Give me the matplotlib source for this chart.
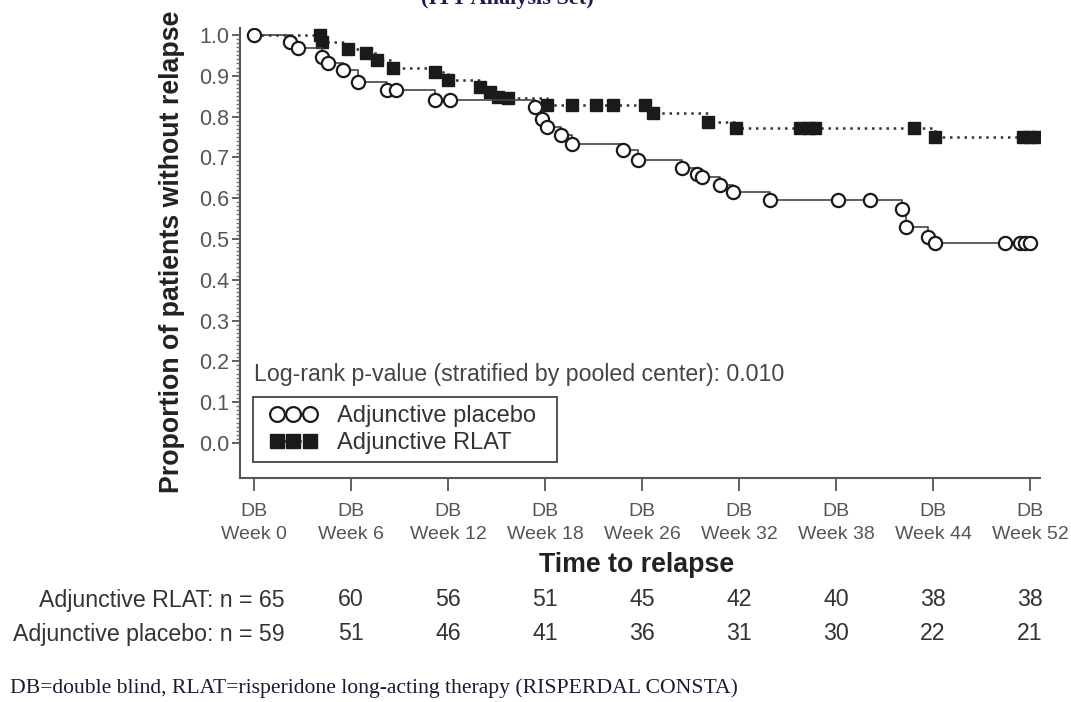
import matplotlib.pyplot as plt
import numpy as np
from matplotlib import transforms
from matplotlib.lines import Line2D
from matplotlib.patches import Rectangle
from matplotlib.legend_handler import HandlerLine2D
from matplotlib.ticker import FixedLocator

plt.rcParams['font.family'] = ['Liberation Sans', 'DejaVu Sans']

# visit weeks shown on the x axis (evenly spaced on the plot)
tick_weeks = [0, 6, 12, 18, 26, 32, 38, 44, 52]
tick_labels = ['DB\nWeek %d' % w for w in tick_weeks]

# Kaplan-Meier estimates, adjunctive placebo
placebo_weeks = [0, 2.2, 2.7, 4.2, 4.6, 5.5, 6.4, 8.2, 8.8, 11.2, 12.1,
                 17.4, 17.8, 18.2, 19.3, 20.2, 24.4, 25.7, 28.5, 29.4, 29.7,
                 30.8, 31.6, 33.9, 38.1, 40.1, 42.1, 42.3, 43.7, 44.2,
                 49.9, 51.2, 51.6, 52.0]
placebo_surv = [1.0, 0.983, 0.968, 0.946, 0.931, 0.914, 0.884, 0.865, 0.865,
                0.841, 0.841, 0.824, 0.794, 0.775, 0.755, 0.733, 0.718, 0.694,
                0.674, 0.660, 0.652, 0.632, 0.615, 0.596, 0.596, 0.596, 0.574,
                0.529, 0.505, 0.490, 0.490, 0.490, 0.490, 0.490]

# Kaplan-Meier estimates, adjunctive RLAT
rlat_weeks = [0, 4.1, 4.2, 5.8, 6.9, 7.6, 8.6, 11.2, 12.0, 14.0, 14.6, 15.1,
              15.7, 18.2, 20.2, 22.2, 23.6, 26.2, 26.7, 30.1, 31.8, 35.8,
              36.3, 36.7, 42.8, 44.2, 51.4, 52.0, 52.6]
rlat_surv = [1.0, 1.0, 0.983, 0.966, 0.956, 0.939, 0.919, 0.909, 0.890, 0.873,
             0.860, 0.848, 0.846, 0.828, 0.828, 0.828, 0.828, 0.828, 0.809,
             0.787, 0.772, 0.772, 0.772, 0.772, 0.772, 0.750, 0.750, 0.750,
             0.750]

# numbers at risk at each visit
rlat_at_risk = [65, 60, 56, 51, 45, 42, 40, 38, 38]
placebo_at_risk = [59, 51, 46, 41, 36, 31, 30, 22, 21]

# piecewise mapping so the visits sit at equal spacing
knot_w = [-6] + tick_weeks + [60]
knot_p = list(range(-1, len(tick_weeks) + 1))


def fwd(w):
    return np.interp(w, knot_w, knot_p)


def inv(p):
    return np.interp(p, knot_p, knot_w)


W, H = 1071, 702
fig = plt.figure(figsize=(W / 100, H / 100), dpi=100)
ax = fig.add_axes([240 / W, 1 - 478 / H, 800 / W, 450 / H])
ax.set_xscale('function', functions=(fwd, inv))

dots = (0, (1, 1.9))
ax.plot(rlat_weeks, rlat_surv, drawstyle='steps-post', color='#333333',
        lw=1.8, linestyle=dots, marker='s', ms=9, mfc='#1a1a1a',
        mec='#1a1a1a', markevery=range(1, len(rlat_weeks)), zorder=3)
ax.plot(placebo_weeks, placebo_surv, drawstyle='steps-post', color='#444444',
        lw=1.2, marker='o', ms=9.5, mfc='white', mec='#1a1a1a', mew=1.6,
        zorder=4)

ax.set_xlim(-0.87, 52.82)
ax.set_ylim(-0.086, 1.017)

for side in ['top', 'right']:
    ax.spines[side].set_visible(False)
for side in ['left', 'bottom']:
    ax.spines[side].set_color('#555555')
    ax.spines[side].set_linewidth(1.5)

ax.set_xticks(tick_weeks)
ax.set_xticklabels(tick_labels, linespacing=1.45)
ax.set_yticks(np.round(np.arange(0, 1.01, 0.1), 1))
ax.set_yticklabels(['%.1f' % v for v in np.arange(0, 1.01, 0.1)])
ax.yaxis.set_minor_locator(FixedLocator(np.arange(0, 1.0001, 0.01)))
ax.xaxis.set_minor_locator(FixedLocator([]))
ax.tick_params(axis='x', which='major', length=9, width=1.3, color='#555555',
               pad=9, labelsize=14, labelcolor='#555555')
ax.tick_params(axis='y', which='major', length=6, width=1.3, color='#555555',
               pad=2, labelsize=15.5, labelcolor='#555555')
ax.tick_params(axis='y', which='minor', length=3, width=1.0, color='#777777')

fig.text(172 / W, 1 - 252 / H, 'Proportion of patients without relapse',
         rotation=90, ha='center', va='center', fontsize=19.3,
         fontweight='bold', color='#222222')
fig.text(637 / W, 1 - 565 / H, 'Time to relapse', ha='center', va='center',
         fontsize=19.3, fontweight='bold', color='#222222')

fig.text(254 / W, 1 - 375 / H,
         'Log-rank p-value (stratified by pooled center): 0.010',
         ha='left', va='center', fontsize=16.7, color='#444444')

# legend: frame drawn separately so its padding can be set per side
fig.patches.append(Rectangle((253 / W, 1 - 462 / H), 304 / W, 65 / H,
                             transform=fig.transFigure, fill=False,
                             edgecolor='#444444', lw=1.3))
handles = [
    Line2D([], [], color='#444444', lw=1.2, marker='o', ms=9.5, mfc='white',
           mec='#1a1a1a', mew=1.6),
    Line2D([], [], color='#333333', lw=1.8, linestyle=dots,
           marker='s', ms=9, mfc='#1a1a1a', mec='#1a1a1a'),
]
leg = ax.legend(handles, ['Adjunctive placebo', 'Adjunctive RLAT'],
                loc='upper left', bbox_to_anchor=(258 / W, 1 - 403 / H),
                bbox_transform=fig.transFigure, borderaxespad=0,
                numpoints=3, markerscale=1.12, handlelength=2.8,
                handletextpad=0.45, borderpad=0.1, labelspacing=0.2,
                fontsize=17, frameon=False,
                handler_map={Line2D: HandlerLine2D(marker_pad=0.7)})
for t in leg.get_texts():
    t.set_color('#333333')

# numbers at risk below the axis
row = transforms.blended_transform_factory(ax.transData, fig.transFigure)
for label, counts, ypx in [('Adjunctive RLAT', rlat_at_risk, 600),
                           ('Adjunctive placebo', placebo_at_risk, 634)]:
    y = 1 - ypx / H
    fig.text(285 / W, y, '%s: n = %d' % (label, counts[0]), ha='right',
             va='center', fontsize=16.7, color='#333333')
    for wk, n in zip(tick_weeks[1:], counts[1:]):
        ax.text(wk, y, str(n), transform=row, ha='center', va='center',
                fontsize=16.7, color='#333333')

fig.text(10 / W, 1 - 688 / H,
         'DB=double blind, RLAT=risperidone long-acting therapy '
         '(RISPERDAL CONSTA)', ha='left', va='center', fontsize=15.6,
         family='Liberation Serif', color='#1a1a33')
fig.text(507 / W, 1 - 4 / H, '(ITT Analysis Set)', ha='center',
         va='baseline', fontsize=16, family='Liberation Serif',
         fontweight='bold', color='#1c1c55')

fig.savefig('out.png', dpi=100)
